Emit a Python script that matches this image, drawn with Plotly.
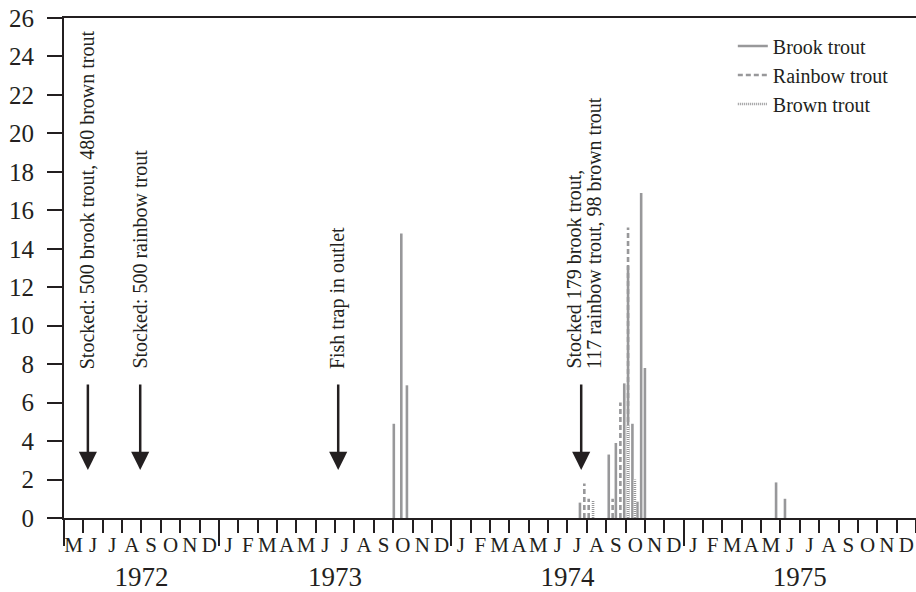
import calendar
import plotly.graph_objects as go

# ---------------- data ----------------
month_letters = ["J", "F", "M", "A", "M", "J", "J", "A", "S", "O", "N", "D"]
years = [1972, 1973, 1974, 1975]
start_year, start_month = 1972, 5          # axis starts at May 1972
end_year, end_month = 1975, 12

brook_dates = ["1973-10-02", "1973-10-14", "1973-10-23",
               "1974-07-21", "1974-09-05", "1974-09-16", "1974-09-29",
               "1974-10-05", "1974-10-12", "1974-10-20", "1974-10-26",
               "1974-11-01", "1975-05-25", "1975-06-08"]
brook_vals = [4.9, 14.8, 6.9,
              0.8, 3.3, 3.9, 7.0,
              13.1, 4.9, 0.85, 16.9,
              7.8, 1.85, 1.0]

rainbow_dates = ["1974-07-28", "1974-08-04", "1974-09-11", "1974-09-23", "1974-10-05"]
rainbow_vals = [1.8, 1.0, 1.0, 6.0, 15.1]

brown_dates = ["1974-08-11", "1974-10-05", "1974-10-16"]
brown_vals = [0.9, 4.8, 2.0]

event_dates = ["1972-06-08", "1972-08-30", "1973-07-06", "1974-07-23"]
event_texts = [["Stocked: 500 brook trout, 480 brown trout"],
               ["Stocked: 500 rainbow trout"],
               ["Fish trap in outlet"],
               ["Stocked 179 brook trout,", "117 rainbow trout, 98 brown trout"]]

y_ticks = list(range(0, 27, 2))


# ---------------- helpers ----------------
def month_index(date_str):
    y, m, d = (int(v) for v in date_str.split("-"))
    ndays = calendar.monthrange(y, m)[1]
    return (y - start_year) * 12 + (m - start_month) + (d - 1) / ndays


def segments(dates, vals):
    xs, ys = [], []
    for d, v in zip(dates, vals):
        xi = month_index(d)
        xs += [xi, xi, None]
        ys += [0, v, None]
    return xs, ys


n_months = (end_year - start_year) * 12 + (end_month - start_month) + 1
month_bounds = list(range(0, n_months + 1))
month_centers = [i + 0.5 for i in range(n_months)]
month_text = [month_letters[(start_month - 1 + i) % 12] for i in range(n_months)]
year_bounds = [0] + [(y - start_year) * 12 + (1 - start_month) for y in years[1:]]
year_centers = []
for y in years:
    a = max(0, (y - start_year) * 12 + (1 - start_month))
    b = (y - start_year) * 12 + (12 - start_month) + 1
    year_centers.append((a + b) / 2)

W, H = 916, 592
ML, MT, PLOT_H = 64, 18, 500
x_range = [0, n_months]

GRAY = "#98989a"
INK = "#231f20"
FONT = "Liberation Serif"
BAR_W = 2.6

fig = go.Figure()

rx, ry = segments(rainbow_dates, rainbow_vals)
fig.add_trace(go.Scatter(x=rx, y=ry, mode="lines", name="Rainbow trout",
                         line=dict(color=GRAY, width=BAR_W, dash="5px,3px"),
                         legendrank=2, hoverinfo="skip"))
bx, by = segments(brook_dates, brook_vals)
fig.add_trace(go.Scatter(x=bx, y=by, mode="lines", name="Brook trout",
                         line=dict(color=GRAY, width=BAR_W),
                         legendrank=1, hoverinfo="skip"))
wx, wy = segments(brown_dates, brown_vals)
fig.add_trace(go.Scatter(x=wx, y=wy, mode="lines", showlegend=False,
                         line=dict(color="white", width=BAR_W), hoverinfo="skip"))
fig.add_trace(go.Scatter(x=wx, y=wy, mode="lines", name="Brown trout",
                         line=dict(color=GRAY, width=BAR_W, dash="1px,1px"),
                         legendrank=3, hoverinfo="skip"))

# invisible anchors so the overlaid tick/label axes get drawn
for ax_id in ["x2", "x3", "x4"]:
    fig.add_trace(go.Scatter(x=[x_range[0]], y=[0], xaxis=ax_id, yaxis="y",
                             mode="markers", marker=dict(opacity=0, size=1),
                             showlegend=False, hoverinfo="skip"))

annotations = []
for d, lines in zip(event_dates, event_texts):
    xi = month_index(d)
    annotations.append(dict(x=xi, y=2.5, xref="x", yref="y", text="",
                            showarrow=True, ax=0, ay=-87, arrowhead=2,
                            arrowsize=1.45, arrowwidth=2.5, arrowcolor=INK))
    n = len(lines)
    for k, line in enumerate(lines):
        shift = 0 if n == 1 else (-7 + 20 * k)
        annotations.append(dict(x=xi, y=7.65, xref="x", yref="y", text=line,
                                showarrow=False, textangle=-90,
                                xanchor="center", yanchor="bottom", xshift=shift,
                                font=dict(family=FONT, size=20, color=INK)))

fig.update_layout(
    width=W, height=H,
    margin=dict(l=ML, r=0, t=MT, b=H - MT - PLOT_H, pad=0, autoexpand=False),
    plot_bgcolor="white", paper_bgcolor="white",
    font=dict(family=FONT, color=INK),
    legend=dict(x=0.785, y=0.983, xanchor="left", yanchor="top",
                bgcolor="rgba(0,0,0,0)", font=dict(family=FONT, size=20, color=INK),
                tracegroupgap=0),
    annotations=annotations,
    xaxis=dict(range=x_range, tickmode="array", tickvals=month_bounds,
               ticks="outside", ticklen=13, tickwidth=2, tickcolor=INK,
               showticklabels=False, showline=True, linewidth=2, linecolor=INK,
               mirror=True, showgrid=False, zeroline=False, fixedrange=True),
    xaxis2=dict(range=x_range, overlaying="x", anchor="y", tickmode="array",
                tickvals=year_bounds, ticks="outside", ticklen=27, tickwidth=2,
                tickcolor=INK, showticklabels=False, showline=False,
                showgrid=False, zeroline=False),
    xaxis3=dict(range=x_range, overlaying="x", anchor="y", tickmode="array",
                tickvals=month_centers, ticktext=month_text, ticks="",
                tickangle=0, ticklabelstandoff=12, ticklabeloverflow="allow",
                tickfont=dict(family=FONT, size=21, color=INK),
                showline=False, showgrid=False, zeroline=False),
    xaxis4=dict(range=x_range, overlaying="x", anchor="y", tickmode="array",
                tickvals=year_centers, ticktext=[str(y) for y in years], ticks="",
                tickangle=0, ticklabelstandoff=40, ticklabeloverflow="allow",
                tickfont=dict(family=FONT, size=27, color=INK),
                showline=False, showgrid=False, zeroline=False),
    yaxis=dict(range=[0, 26], tickmode="array", tickvals=y_ticks,
               ticks="outside", ticklen=15, tickwidth=2, tickcolor=INK,
               ticklabelstandoff=8, ticklabeloverflow="allow",
               tickfont=dict(family=FONT, size=25, color=INK),
               showline=True, linewidth=2, linecolor=INK,
               showgrid=False, zeroline=False),
)

# remove the browser's default 8px page margin so the figure fills the window
fig.write_html("out.html",
               config={"displayModeBar": False},
               post_script="document.body.style.margin='0';document.body.style.overflow='hidden';")
